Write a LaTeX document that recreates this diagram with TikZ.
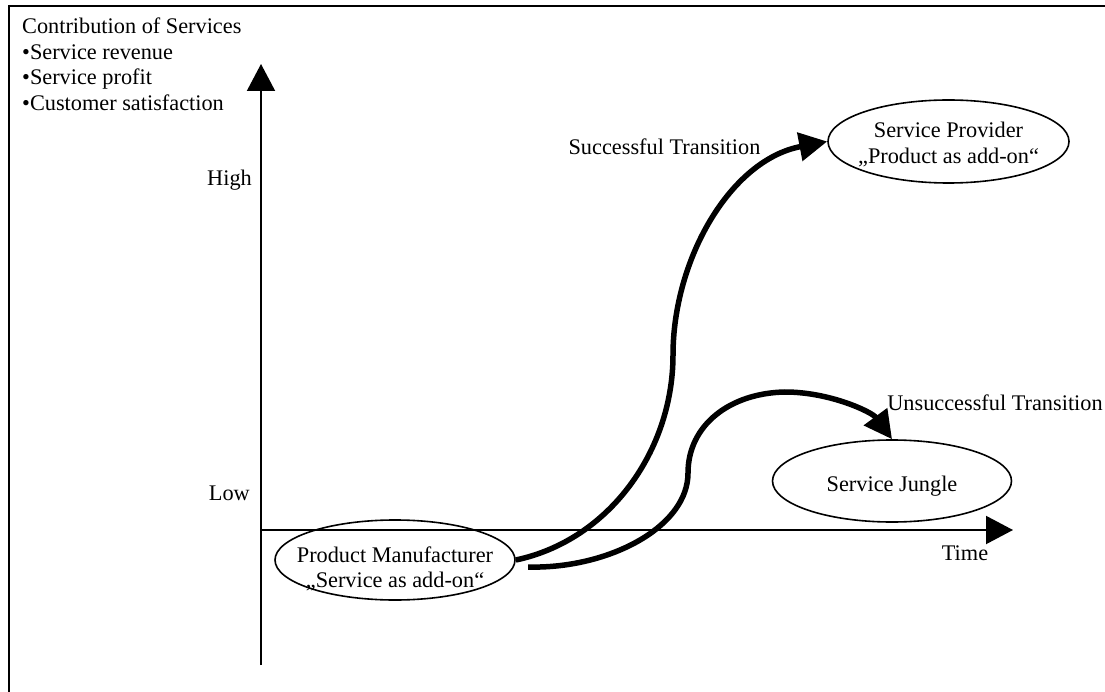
\documentclass[tikz,border=0pt]{standalone}
\usepackage{fontspec}
\setmainfont{Liberation Serif}
\usetikzlibrary{arrows.meta,shapes.geometric}
\newcommand{\statetext}[2]{\raisebox{#1}[0pt][0pt]{\makebox[0pt]{\begin{tabular}{@{}c@{}}#2\end{tabular}}}}
\begin{document}
\begin{tikzpicture}[x=1pt,y=-1pt,
  every node/.style={font=\fontsize{22.3}{25.5}\selectfont, inner sep=0pt},
  axis/.style={line width=2pt, -{Triangle[length=27pt,width=28pt]}},
  frame/.style={line width=2.4pt},
  state/.style={ellipse, draw, line width=1.6pt, inner sep=0pt},
  trans/.style={line width=5.5pt, line cap=butt, -{Triangle[length=28pt,width=28pt]}}]
\useasboundingbox (0,0) rectangle (1105,692);
% frame
\draw[frame] (8,6) -- (1105,6);
\draw[frame] (9,5) -- (9,692);
% axes
\coordinate (origin) at (261,530);
\coordinate (ybot) at (261,665);
\coordinate (ytop) at (261,64);
\coordinate (xend) at (1013,530);
\draw[axis] (ybot) -- (ytop);
\draw[axis] (origin) -- (xend);
% axis texts
\node[anchor=north west, align=left] (title) at (22,18)
  {Contribution of Services\\•Service revenue\\•Service profit\\•Customer satisfaction};
\node[anchor=east] (high) at (252,180) {High};
\node[anchor=east] (low) at (250,493) {Low};
\node (time) at (965,553) {Time};
% states
\node[state, minimum width=240pt, minimum height=80pt] (pm) at (395,560)
  {\statetext{-15pt}{Product Manufacturer\\ „Service as add-on“}};
\node[state, minimum width=241pt, minimum height=83pt] (sp) at (948.5,141.5)
  {\statetext{-9pt}{Service Provider\\ „Product as add-on“}};
\node[state, minimum width=239pt, minimum height=82pt] (sj) at (892,481)
  {\statetext{-11pt}{Service Jungle}};
% transition labels
\node (succ) at (664.5,147) {Successful Transition};
\node (unsucc) at (995,403) {Unsuccessful Transition};
% transitions
\coordinate (ustart) at (528,567);
\draw[trans] (pm.east) .. controls (610,540) and (673,450) .. (673,355)
  .. controls (673,260) and (730,160) .. (sp.west);
\draw[trans] (ustart) -- (540,567) .. controls (615,565) and (688,525) .. (688,473)
  .. controls (688,425) and (730,393) .. (785,392)
  .. controls (830,392) and (872,412) .. (sj.north);
\end{tikzpicture}
\end{document}
